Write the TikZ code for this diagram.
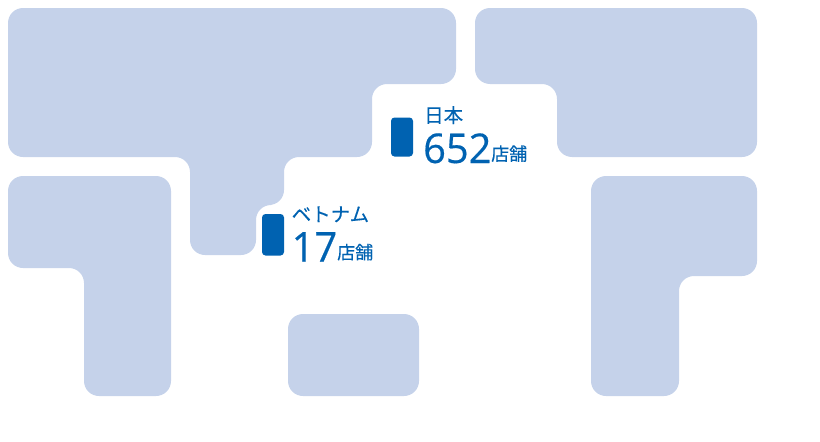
\documentclass[tikz,border=0pt]{standalone}
\usepackage{fontspec}
\setmainfont{Open Sans}
\newfontfamily\cjk[FakeBold=0.25]{Noto Sans CJK JP}
\newfontfamily\digitfont[FakeStretch=0.97,FakeBold=0.4]{Open Sans}
\definecolor{land}{HTML}{C5D2EA}
\definecolor{blu}{HTML}{0062B1}
\tikzset{land/.style={fill=land,draw=none},
 pin/.style={fill=blu,draw=none,rounded corners=3.5pt},
 small/.style={text=blu,inner sep=0,anchor=base west,font=\cjk\fontsize{19.5pt}{20pt}\selectfont},
 big/.style={text=blu,inner sep=0,anchor=base west,font=\digitfont\fontsize{41pt}{42pt}\selectfont},
 unit/.style={text=blu,inner sep=0,anchor=base west,font=\cjk\fontsize{18pt}{19pt}\selectfont}}
\begin{document}
\begin{tikzpicture}[x=1pt,y=-1pt]
\useasboundingbox (0,0) rectangle (820,442);
\path[land,rounded corners=15pt] (8,8) -- (456,8) -- (456,84) -- (372,84) -- (372,157) -- (284,157) -- (284,205) -- (256,205) -- (256,255) -- (190,255) -- (190,157) -- (8,157) -- cycle;
\path[land,rounded corners=15pt] (475,8) -- (757,8) -- (757,157) -- (557,157) -- (557,84) -- (475,84) -- cycle;
\path[land,rounded corners=15pt] (8,176) -- (171,176) -- (171,396) -- (84,396) -- (84,268) -- (8,268) -- cycle;
\path[land,rounded corners=15pt] (591,176) -- (757,176) -- (757,276) -- (679,276) -- (679,396) -- (591,396) -- cycle;
\path[land,rounded corners=15pt] (288,314) rectangle (419,396);
\path[pin] (391,117.5) rectangle (413,156.5);
\path[pin] (262,214) rectangle (284,255.5);
\node[small] (jp) at (424,122.5) {日本};
\node[big] (jpn) at (423,163) {652};
\node[unit] (jpu) at (491,160.5) {店舗};
\node[small] (vn) at (291.5,221.5) {ベトナム};
\node[big] (vnn) at (291.5,261.5) {17};
\node[unit] (vnu) at (337,259) {店舗};
\end{tikzpicture}
\end{document}
